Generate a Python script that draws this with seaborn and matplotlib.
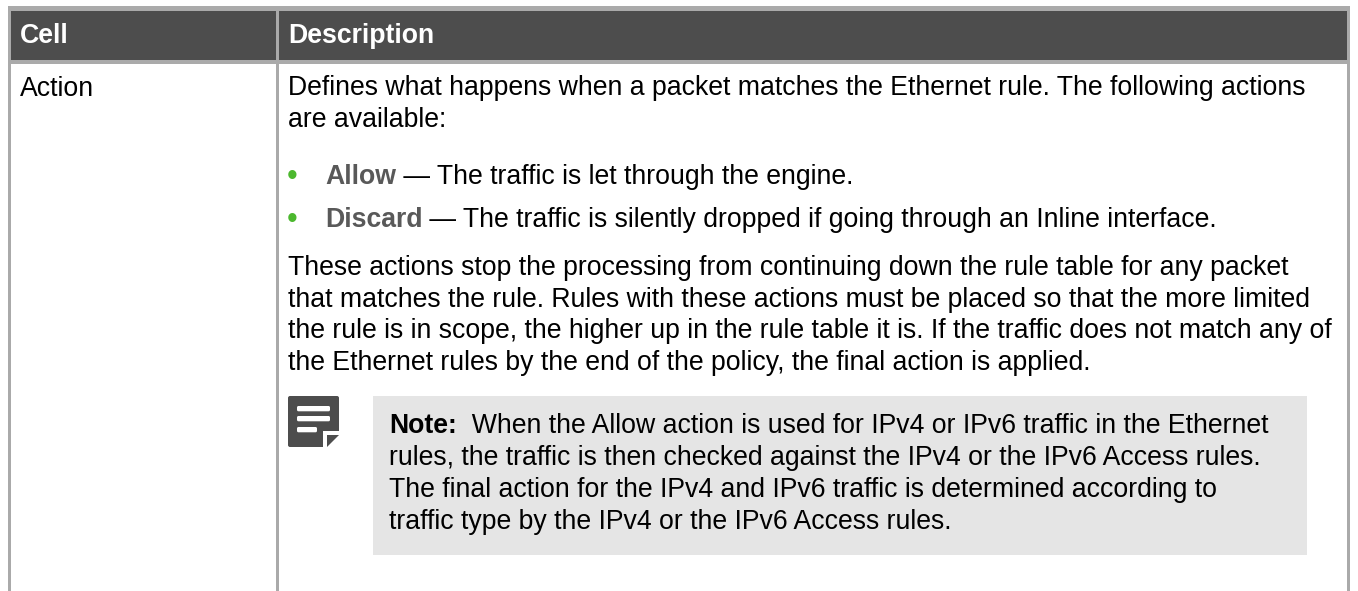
import matplotlib
matplotlib.use("Agg")
import matplotlib.pyplot as plt
from matplotlib.patches import Rectangle, FancyBboxPatch, Polygon
import seaborn as sns

headers = ["Cell", "Description"]
row_label = "Action"
intro = ["Defines what happens when a packet matches the Ethernet rule. The following actions",
         "are available:"]
bullets = [("Allow", " — The traffic is let through the engine."),
           ("Discard", " — The traffic is silently dropped if going through an Inline interface.")]
para = ["These actions stop the processing from continuing down the rule table for any packet",
        "that matches the rule. Rules with these actions must be placed so that the more limited",
        "the rule is in scope, the higher up in the rule table it is. If the traffic does not match any of",
        "the Ethernet rules by the end of the policy, the final action is applied."]
note_head = "Note:"
note = ["  When the Allow action is used for IPv4 or IPv6 traffic in the Ethernet",
        "rules, the traffic is then checked against the IPv4 or the IPv6 Access rules.",
        "The final action for the IPv4 and IPv6 traffic is determined according to",
        "traffic type by the IPv4 or the IPv6 Access rules."]

sns.set_theme(style="white")
plt.rcParams["font.family"] = ["Liberation Sans", "DejaVu Sans"]
W, H = 1358, 591
fig = plt.figure(figsize=(W/100, H/100), dpi=100, facecolor="white")
ax = fig.add_axes([0, 0, 1, 1])
ax.set_xlim(0, W); ax.set_ylim(H, 0); ax.axis("off")

GRID = "#aaaaaa"; HEAD = "#4d4d4d"; FS = 19.17
def rect(x0, y0, x1, y1, c, z=1):
    ax.add_patch(Rectangle((x0, y0), x1-x0, y1-y0, fc=c, ec="none", lw=0, zorder=z))

rect(8, 6, 1350, 11, GRID)
rect(8, 11, 1350, 64, GRID)
rect(11, 11, 276, 60, HEAD, 2)
rect(279, 11, 1347, 60, HEAD, 2)
rect(8, 64, 11, H, GRID)
rect(276, 64, 279, H, GRID)
rect(1347, 64, 1350, H, GRID)

ax.text(20, 43, headers[0], color="white", fontsize=FS, fontweight="bold", va="baseline", zorder=3)
ax.text(288, 43, headers[1], color="white", fontsize=FS, fontweight="bold", va="baseline", zorder=3)
ax.text(20, 96, row_label, color="black", fontsize=FS, va="baseline")

for s, y in zip(intro, [95, 127]):
    ax.text(288, y, s, color="black", fontsize=FS, va="baseline")

renderer = fig.canvas.get_renderer()
def runs(x, y, a, b, ca, cb="black"):
    t = ax.text(x, y, a, color=ca, fontsize=FS, fontweight="bold", va="baseline", zorder=3)
    bb = t.get_window_extent(renderer)
    ax.text(bb.x1, y, b, color=cb, fontsize=FS, va="baseline", zorder=3)

for (a, b), y in zip(bullets, [184, 227]):
    ax.text(287, y + 1, "•", color="#4cb82e", fontsize=22, va="baseline")
    runs(325, y, a, b, "#595959")

for s, y in zip(para, [275, 307, 338, 370]):
    ax.text(288, y, s, color="black", fontsize=FS, va="baseline")

rect(373, 396, 1307, 555, "#e5e5e5")
runs(389, 433, note_head, note[0], "black")
for s, y in zip(note[1:], [465, 497, 529]):
    ax.text(389, y, s, color="black", fontsize=FS, va="baseline", zorder=3)

# note icon
ax.add_patch(FancyBboxPatch((288, 396), 51, 51, boxstyle="round,pad=0,rounding_size=2", fc=HEAD, ec="none"))
ax.add_patch(Polygon([(323, 448), (323, 431), (340, 431), (340, 448)], closed=True, fc="white", ec="none", zorder=3))
ax.add_patch(Polygon([(327, 447), (327, 435), (339, 435)], closed=True, fc=HEAD, ec="none", zorder=4))
for x1, y0 in zip([330, 330, 317], [406, 416, 427]):
    ax.add_patch(FancyBboxPatch((297, y0), x1-297, 5.3, boxstyle="round,pad=0,rounding_size=1.5", fc="white", ec="none", zorder=3))

sns.despine(ax=ax, left=True, bottom=True)
fig.savefig("out.png", dpi=100, facecolor="white")
